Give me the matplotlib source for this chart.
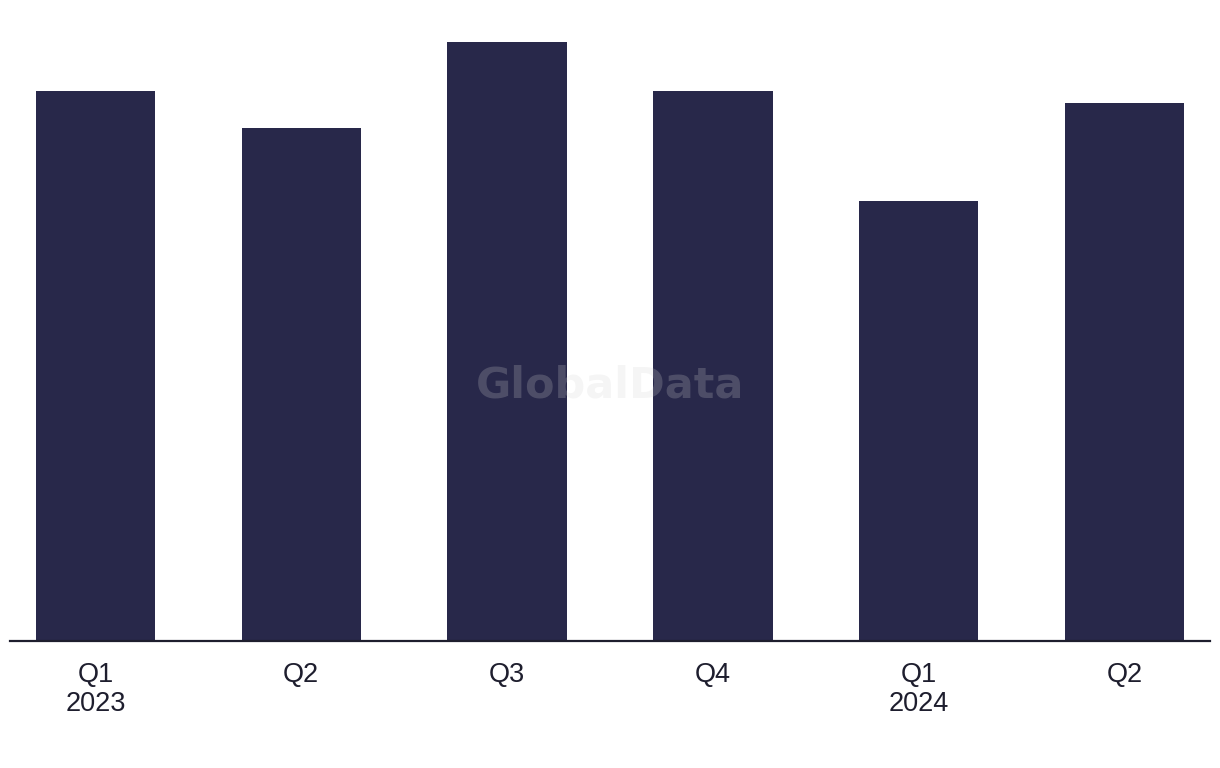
import matplotlib.pyplot as plt
import numpy as np

# Quarterly values (no y axis shown, relative scale)
quarters = ['Q1\n2023', 'Q2', 'Q3', 'Q4', 'Q1\n2024', 'Q2']
values = [550, 513, 599, 550, 440, 538]

bar_color = '#28284a'
text_color = '#1e1e2e'

fig = plt.figure(figsize=(12.2, 7.68), dpi=100)
ax = fig.add_axes([10 / 1220, 1 - 641 / 768, 1200 / 1220, 621 / 768])

x = np.arange(len(quarters))
ax.bar(x, values, width=0.58, color=bar_color, zorder=2)

ax.set_xlim(-0.415, 5.415)
ax.set_ylim(0, 621)

# Only the baseline stays visible
for side in ['top', 'right', 'left']:
    ax.spines[side].set_visible(False)
ax.spines['bottom'].set_color(text_color)
ax.spines['bottom'].set_linewidth(1.6)
ax.spines['bottom'].set_zorder(3)

ax.set_yticks([])
ax.set_xticks(x)
ax.set_xticklabels(quarters, fontsize=19.5, color=text_color, family='Liberation Sans')
for lbl in ax.get_xticklabels():
    lbl.set_linespacing(1.17)
ax.tick_params(axis='x', length=0, pad=15)

# Watermark
fig.text(0.5, 1 - 385 / 768, 'GlobalData', ha='center', va='center',
         fontsize=31, fontweight='bold', color='#d2d2d2', alpha=0.22, zorder=5)

fig.savefig('out.png', dpi=100)
